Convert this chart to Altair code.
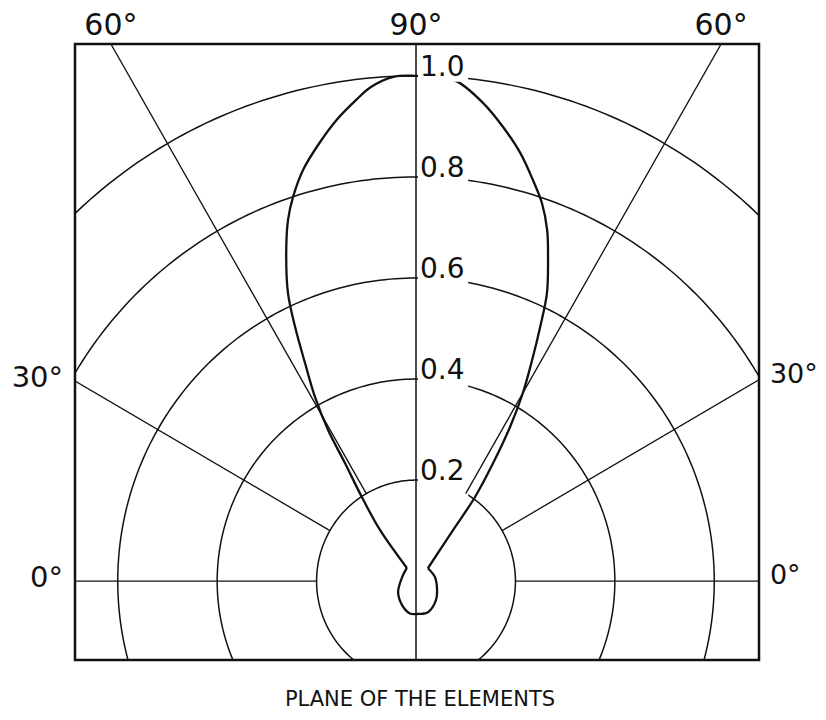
import math
import altair as alt
import numpy as np
import pandas as pd

# ---------------- data ----------------
ring_values = [0.2, 0.4, 0.6, 0.8, 1.0]
ring_labels = ["0.2", "0.4", "0.6", "0.8", "1.0"]
spoke_angles = [0, 30, 60, 120, 150, 180]

# main lobe (angle from the plane of the elements in deg, relative field),
# from the left neck, over the top, down to the right neck
lobe_angle = [125.1, 125.6, 123.2, 121.45, 120.6, 119.15, 117.35, 115.8, 114.3,
              111.9, 109.8, 108.0, 105.6, 102.6, 99.9, 97.2, 95.3, 92.6,
              90.0, 87.5, 85.2, 81.9, 79.0, 76.1, 73.5, 71.3, 69.2, 67.5, 65.2,
              63.6, 61.9, 60.0, 58.2, 56.4, 54.5, 53.6, 46.9]
lobe_r = [0.032, 0.124, 0.199, 0.274, 0.3475, 0.417, 0.486, 0.559, 0.626,
          0.700, 0.760, 0.800, 0.845, 0.889, 0.927, 0.960, 0.982, 0.999,
          1.0, 0.999, 0.992, 0.956, 0.916, 0.873, 0.828, 0.790, 0.743, 0.694, 0.628,
          0.562, 0.496, 0.430, 0.359, 0.280, 0.204, 0.125, 0.035]

# small back loop round the origin, left neck to right neck
loop_angle = [125.1, 164.3, 211.0, 239.3, 259.2, 271.8, 291.4, 316.9, 337.2, 11.7, 46.9]
loop_r = [0.032, 0.029, 0.042, 0.055, 0.065, 0.065, 0.066, 0.055, 0.046, 0.039, 0.035]

top_labels = ["60°", "90°", "60°"]
top_label_angles = [120, 90, 60]
side_labels = ["30°", "0°"]
side_label_angles = [30, 0]
title_text = "PLANE OF THE ELEMENTS"

# ---------------- frame / scales ----------------
X_MIN, X_MAX = -0.686, 0.690
Y_MIN, Y_MAX = -0.156, 1.063
W, H = 684, 616
FONT = "DejaVu Sans"

xs = alt.Scale(domain=[X_MIN, X_MAX], nice=False, zero=False)
ys = alt.Scale(domain=[Y_MIN, Y_MAX], nice=False, zero=False)


def X(f="x"):
    return alt.X(f"{f}:Q", scale=xs, axis=None)


def Y(f="y"):
    return alt.Y(f"{f}:Q", scale=ys, axis=None)


POLAR = dict(x="datum.r*cos(datum.a*PI/180)", y="datum.r*sin(datum.a*PI/180)")

# grid circles
grid_a = np.arange(0, 361, 1.0)
circ_df = pd.DataFrame([(r, a) for r in ring_values for a in grid_a], columns=["r", "a"])
circles = alt.Chart(circ_df).transform_calculate(**POLAR).mark_line(
    clip=True, color="#111", strokeWidth=1.5
).encode(x=X(), y=Y(), detail="r:N", order="a:Q")

# pattern (two open paths meeting at the sharp necks)
pat_df = pd.concat([
    pd.DataFrame({"seg": "lobe", "i": range(len(lobe_r)), "a": lobe_angle, "r": lobe_r}),
    pd.DataFrame({"seg": "loop", "i": range(len(loop_r)), "a": loop_angle, "r": loop_r}),
], ignore_index=True)
pattern = alt.Chart(pat_df).transform_calculate(**POLAR).mark_line(
    clip=True, color="#111", strokeWidth=2.3, interpolate="catmull-rom"
).encode(x=X(), y=Y(), detail="seg:N", order="i:Q")

# white boxes behind radius labels
box_df = pd.DataFrame({
    "r": ring_values,
    "x0": [0.004] * len(ring_values),
    "x1": [0.105] * len(ring_values),
    "y0": [math.sqrt(r * r - 0.105 ** 2) - 0.006 for r in ring_values],
    "y1": [r + 0.05 for r in ring_values],
})
boxes = alt.Chart(box_df).mark_rect(color="white", clip=True).encode(
    x=X("x0"), x2="x1:Q", y=Y("y0"), y2="y1:Q"
)

RULE = dict(
    x="datum.r0*cos(datum.a*PI/180)", y="datum.r0*sin(datum.a*PI/180)",
    x2="datum.r1*cos(datum.a*PI/180)", y2="datum.r1*sin(datum.a*PI/180)",
)

# spokes
spk_df = pd.DataFrame({"a": spoke_angles, "r0": [0.2] * len(spoke_angles), "r1": [2.0] * len(spoke_angles)})
spokes = alt.Chart(spk_df).transform_calculate(**RULE).mark_rule(
    clip=True, color="#111", strokeWidth=1.3
).encode(x=X(), y=Y(), x2="x2:Q", y2="y2:Q")

vert_df = pd.DataFrame({"a": [90], "r0": [-1.0], "r1": [2.0]})
vertical = alt.Chart(vert_df).transform_calculate(**RULE).mark_rule(
    clip=True, color="#111", strokeWidth=1.5
).encode(x=X(), y=Y(), x2="x2:Q", y2="y2:Q")

# radius labels
rl_df = pd.DataFrame({"t": ring_labels, "x": [0.008] * 5, "y": ring_values})
ring_text = alt.Chart(rl_df).mark_text(
    align="left", baseline="alphabetic", font=FONT, fontSize=28, color="#111"
).encode(x=X(), y=Y(), text="t:N")

# angle labels
top_y = Y_MAX + 0.036
tl_df = pd.DataFrame({
    "t": top_labels,
    "x": [Y_MAX / math.tan(math.radians(a)) if a != 90 else 0.0 for a in top_label_angles],
    "y": [top_y] * 3,
})
top_text = alt.Chart(tl_df).mark_text(
    align="center", baseline="middle", font=FONT, fontSize=30, color="#111"
).encode(x=X(), y=Y(), text="t:N")

left_df = pd.DataFrame({
    "t": side_labels,
    "x": [X_MIN - 0.024] * 2,
    "y": [abs(X_MIN) * math.tan(math.radians(a)) + 0.006 for a in side_label_angles],
})
left_text = alt.Chart(left_df).mark_text(
    align="right", baseline="middle", font=FONT, fontSize=29, color="#111"
).encode(x=X(), y=Y(), text="t:N")

right_df = pd.DataFrame({
    "t": side_labels,
    "x": [X_MAX + 0.022] * 2,
    "y": [X_MAX * math.tan(math.radians(a)) + 0.01 for a in side_label_angles],
})
right_text = alt.Chart(right_df).mark_text(
    align="left", baseline="middle", font=FONT, fontSize=27, color="#111"
).encode(x=X(), y=Y(), text="t:N")

title_df = pd.DataFrame({"t": [title_text], "x": [0.008], "y": [-0.2475]})
title = alt.Chart(title_df).mark_text(
    align="center", baseline="alphabetic", font=FONT, fontSize=21, color="#111"
).encode(x=X(), y=Y(), text="t:N")

chart = alt.layer(
    circles, pattern, boxes, spokes, vertical, ring_text, top_text, left_text, right_text, title
).properties(
    width=W, height=H,
    padding={"left": 67, "top": 36, "right": 59, "bottom": 52},
    autosize=alt.AutoSizeParams(type="none"),
    background="white",
).configure_view(stroke="#111", strokeWidth=2.5, fill="white")

chart.save("out.html", embed_options={"renderer": "svg", "actions": False})
